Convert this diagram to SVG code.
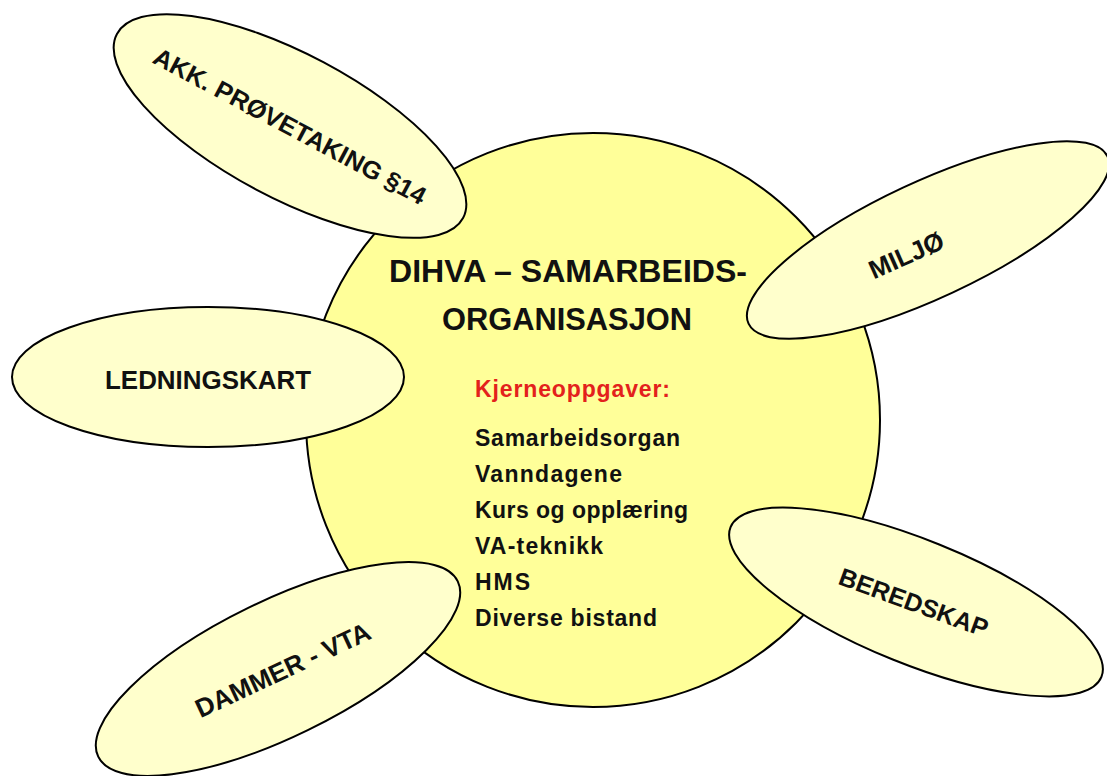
<svg xmlns="http://www.w3.org/2000/svg" width="1107" height="776" viewBox="0 0 1107 776">
<style>
.bg{fill:#ffffff}
.hub{fill:#ffff99;stroke:#000;stroke-width:2}
.sat{fill:#ffffcc;stroke:#000;stroke-width:2}
.lbl{font-family:"Liberation Sans",Arial,sans-serif;font-weight:bold;fill:#111;text-anchor:middle}
.big{font-size:32px}
.sl{font-size:25px}
.item{font-family:"Liberation Sans",Arial,sans-serif;font-weight:bold;font-size:23px;fill:#111}
.red{fill:#e3211c}
</style>
<rect class="bg" x="0" y="0" width="1107" height="776"/>
<g id="connectors"/>
<g id="hub">
<circle class="hub" cx="593" cy="420" r="287"/>
<text class="lbl big" x="568" y="282" textLength="358" lengthAdjust="spacingAndGlyphs">DIHVA – SAMARBEIDS-</text>
<text class="lbl big" x="567" y="330" textLength="250" lengthAdjust="spacingAndGlyphs">ORGANISASJON</text>
<text class="item red" x="475" y="397" textLength="195" lengthAdjust="spacing">Kjerneoppgaver:</text>
<text class="item" x="475" y="446" textLength="205" lengthAdjust="spacing">Samarbeidsorgan</text>
<text class="item" x="475" y="482" textLength="147" lengthAdjust="spacing">Vanndagene</text>
<text class="item" x="475" y="518" textLength="213" lengthAdjust="spacing">Kurs og opplæring</text>
<text class="item" x="475" y="554" textLength="128" lengthAdjust="spacing">VA-teknikk</text>
<text class="item" x="475" y="590" textLength="55" lengthAdjust="spacing">HMS</text>
<text class="item" x="475" y="626" textLength="182" lengthAdjust="spacing">Diverse bistand</text>
</g>
<g id="akk" transform="translate(290 126) rotate(28)">
<ellipse class="sat" cx="0" cy="0" rx="196" ry="72"/>
<text class="lbl sl" x="0" y="9" textLength="305" lengthAdjust="spacingAndGlyphs">AKK. PRØVETAKING §14</text>
</g>
<g id="miljo" transform="translate(928 240) rotate(-25)">
<ellipse class="sat" cx="0" cy="0" rx="198" ry="58"/>
<text class="lbl" style="font-size:26px" x="-26" y="14" transform="rotate(1)">MILJØ</text>
</g>
<g id="ledningskart" transform="translate(208 377)">
<ellipse class="sat" cx="0" cy="0" rx="196" ry="70"/>
<text class="lbl sl" x="0" y="12" textLength="206" lengthAdjust="spacingAndGlyphs">LEDNINGSKART</text>
</g>
<g id="beredskap" transform="translate(916 602) rotate(22)">
<ellipse class="sat" cx="0" cy="0" rx="200" ry="62"/>
<text class="lbl sl" x="-2" y="10" transform="rotate(-2)">BEREDSKAP</text>
</g>
<g id="dammer" transform="translate(278 669) rotate(-26)">
<ellipse class="sat" cx="0" cy="0" rx="200" ry="68"/>
<text class="lbl" style="font-size:26px" x="4" y="12" transform="rotate(1)">DAMMER - VTA</text>
</g>
</svg>
